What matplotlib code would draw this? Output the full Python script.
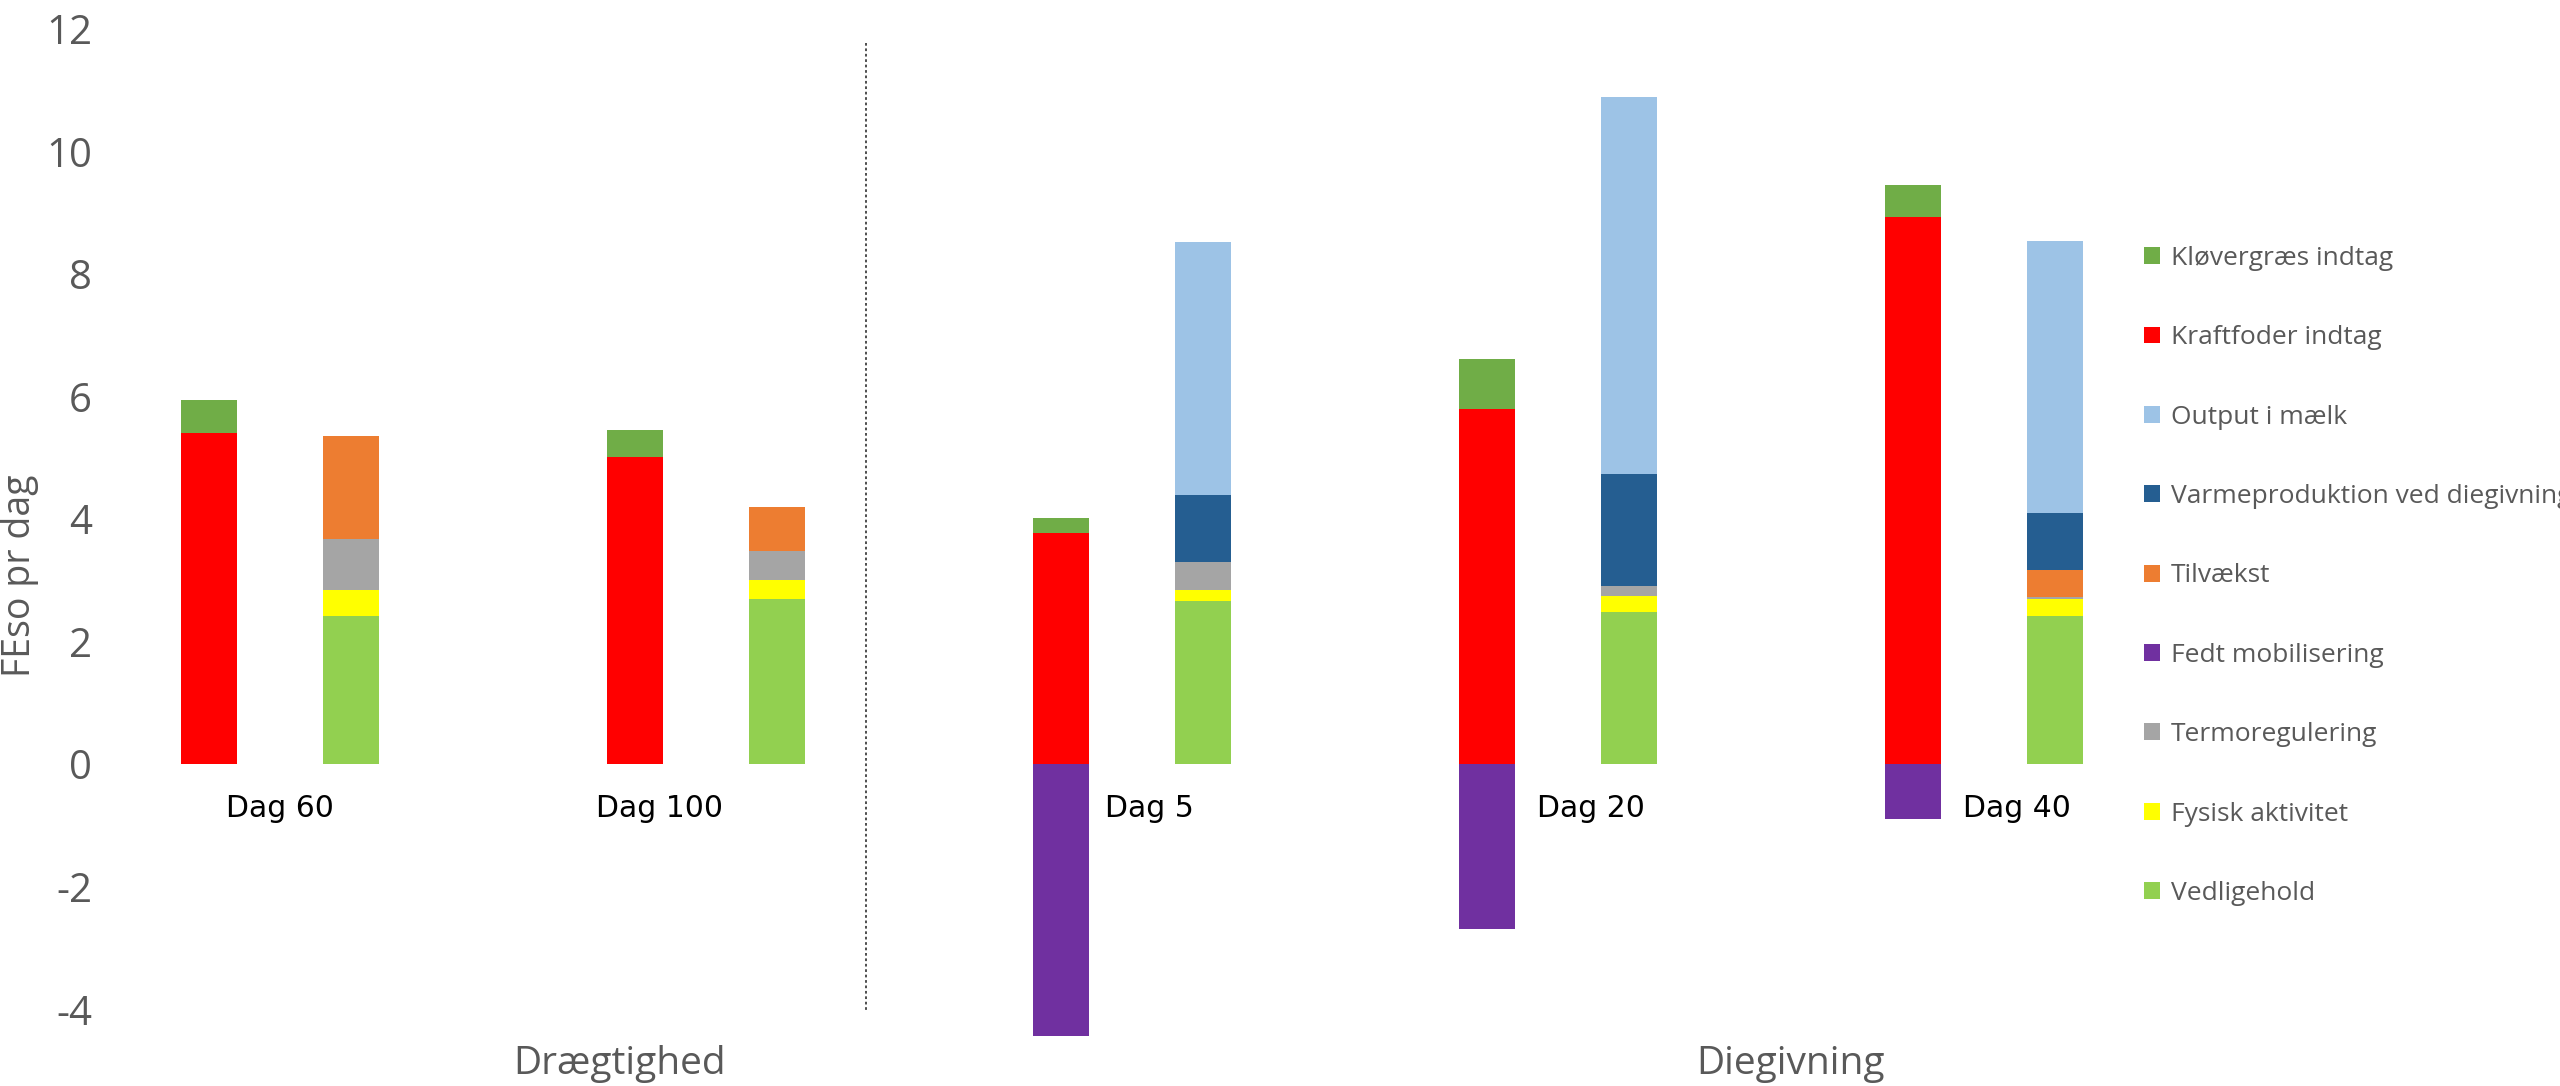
import matplotlib
matplotlib.use("Agg")
import matplotlib.pyplot as plt
from matplotlib.patches import Patch
import numpy as np

# Days within each phase
days = ["Dag 60", "Dag 100", "Dag 5", "Dag 20", "Dag 40"]
phases = ["Drægtighed", "Diegivning"]

# Intake side (FEso pr dag)
kloevergraes = [0.54, 0.45, 0.24, 0.82, 0.53]
kraftfoder = [5.40, 5.01, 3.77, 5.80, 8.93]
fedt_mobilisering = [0.0, 0.0, -4.44, -2.69, -0.90]

# Requirement side (FEso pr dag)
vedligehold = [2.42, 2.70, 2.67, 2.48, 2.42]
fysisk_aktivitet = [0.42, 0.31, 0.17, 0.26, 0.27]
termoregulering = [0.84, 0.47, 0.46, 0.17, 0.04]
tilvaekst = [1.68, 0.72, 0.0, 0.0, 0.44]
varmeproduktion = [0.0, 0.0, 1.09, 1.82, 0.93]
output_maelk = [0.0, 0.0, 4.13, 6.16, 4.44]

yticks = [-4, -2, 0, 2, 4, 6, 8, 10, 12]

colors = {
    "Kløvergræs indtag": "#70AD47",
    "Kraftfoder indtag": "#FF0000",
    "Output i mælk": "#9DC3E6",
    "Varmeproduktion ved diegivning": "#255E91",
    "Tilvækst": "#ED7D31",
    "Fedt mobilisering": "#7030A0",
    "Termoregulering": "#A5A5A5",
    "Fysisk aktivitet": "#FFFF00",
    "Vedligehold": "#92D050",
}

intake_stack = [("Kraftfoder indtag", kraftfoder), ("Kløvergræs indtag", kloevergraes)]
output_stack = [
    ("Vedligehold", vedligehold),
    ("Fysisk aktivitet", fysisk_aktivitet),
    ("Termoregulering", termoregulering),
    ("Tilvækst", tilvaekst),
    ("Varmeproduktion ved diegivning", varmeproduktion),
    ("Output i mælk", output_maelk),
]

grey = "#595959"
fig = plt.figure(figsize=(25.6, 10.86), dpi=100)
ax = fig.add_axes([0.0539, 0.0424, 0.832, 0.931])

n = len(days)
x_in = np.arange(n) * 3.0
x_out = x_in + 1.0
width = 0.4

# intake columns
bottom = np.zeros(n)
for name, vals in intake_stack:
    v = np.array(vals)
    ax.bar(x_in, v, width, bottom=bottom, color=colors[name], linewidth=0)
    bottom += v
ax.bar(x_in, fedt_mobilisering, width, color=colors["Fedt mobilisering"], linewidth=0)

# requirement columns
bottom = np.zeros(n)
for name, vals in output_stack:
    v = np.array(vals)
    ax.bar(x_out, v, width, bottom=bottom, color=colors[name], linewidth=0)
    bottom += v

ax.set_xlim(-0.5, 14.5)
ax.set_ylim(-4.5, 12)
ax.set_yticks(yticks)
ax.set_yticklabels([str(t) for t in yticks], fontfamily="Open Sans", fontsize=29, color=grey)
ax.tick_params(axis="y", length=0, pad=33)
ax.set_xticks([])
for s in ax.spines.values():
    s.set_visible(False)

# day labels next to the columns
label_offsets = [0.50, 0.17, 0.62, 0.73, 0.73]
for xi, d, off in zip(x_in, days, label_offsets):
    ax.text(xi + off, -0.86, d, ha="center", va="baseline", fontsize=21.5,
            fontfamily="DejaVu Sans", color="black")

# phase labels and separator
ax.text(2.89, -5.05, phases[0], ha="center", va="baseline", fontsize=28,
        fontfamily="Open Sans", color=grey, clip_on=False)
ax.text(11.14, -5.05, phases[1], ha="center", va="baseline", fontsize=28,
        fontfamily="Open Sans", color=grey, clip_on=False)
ax.plot([4.63, 4.63], [11.77, -4.05], color="#404040", lw=1.3,
        linestyle=(0, (1.5, 1.5)))

fig.text(0.0005, 0.47, "FEso pr dag", rotation=90, ha="left", va="center",
         fontsize=27, fontfamily="Open Sans", color=grey)

legend_order = ["Kløvergræs indtag", "Kraftfoder indtag", "Output i mælk",
                "Varmeproduktion ved diegivning", "Tilvækst", "Fedt mobilisering",
                "Termoregulering", "Fysisk aktivitet", "Vedligehold"]
handles = [Patch(facecolor=colors[k], edgecolor="none", label=k) for k in legend_order]
leg = fig.legend(handles=handles, loc="upper left", bbox_to_anchor=(2144 / 2560, 1 - 246 / 1086),
                 frameon=False, prop={"family": "Open Sans", "size": 19},
                 handlelength=0.6, handleheight=0.6, handletextpad=0.42,
                 labelspacing=2.06, borderpad=0, borderaxespad=0)
for t in leg.get_texts():
    t.set_color(grey)

fig.savefig("out.png", dpi=100)
